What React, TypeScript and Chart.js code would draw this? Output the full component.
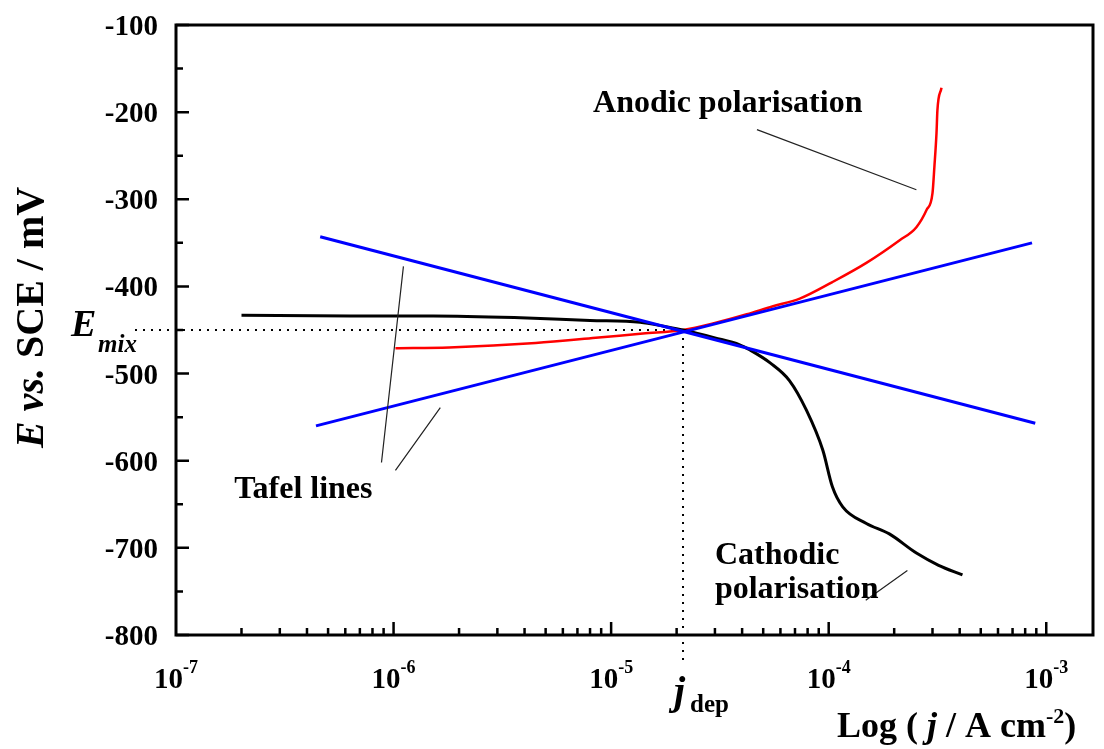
import React, { useEffect, useRef } from "react";
import { Chart, registerables } from "chart.js";

Chart.register(...registerables);

// ---------- data ----------
const cathodicJ = [2.0e-7, 6.35e-7, 1.52e-6, 3.83e-6, 8.0e-6, 1.36e-5, 1.77e-5, 2.14e-5, 3.0e-5, 3.9e-5, 4.35e-5, 5.4e-5, 6.6e-5, 7.9e-5, 9.4e-5, 1.04e-4, 1.16e-4, 1.49e-4, 1.9e-4, 2.53e-4, 3.2e-4, 4.12e-4];
const cathodicE = [-433, -434, -434, -436, -439, -441, -446, -450, -459, -467, -473, -488, -508, -542, -588, -630, -653, -672, -684, -706, -720, -731];

const anodicJ = [1.02e-6, 1.8e-6, 4.5e-6, 8.5e-6, 1.4e-5, 2.14e-5, 3.0e-5, 4.2e-5, 5.5e-5, 7.36e-5, 1.04e-4, 1.49e-4, 2.12e-4, 2.53e-4, 2.82e-4, 3.0e-4, 3.06e-4, 3.13e-4, 3.16e-4, 3.3e-4];
const anodicE = [-471, -470, -465, -459, -454, -450, -442, -432, -423, -414, -395, -373, -347, -332, -312, -293, -263, -224, -198, -172];

const tafelAnodicJ = [4.4e-7, 8.6e-4];
const tafelAnodicE = [-560, -350];
const tafelCathodicJ = [4.6e-7, 8.9e-4];
const tafelCathodicE = [-343, -557];

const yTickValues = [-800, -700, -600, -500, -400, -300, -200, -100];
const yMinorValues = [-750, -650, -550, -450, -350, -250, -150];
const xDecadeExponents = [-7, -6, -5, -4, -3];
const xMinorMultipliers = [2, 3, 4, 5, 6, 7, 8, 9];

const X_MIN = 1e-7;
const X_MAX = 1.64e-3;
const Y_MIN = -800;
const Y_MAX = -100;

const E_MIX = -450;
const J_DEP = 2.14e-5;

// leader lines [j, E] pairs
const pointerFromJ = [4.68e-5, 1.11e-6, 1.64e-6, 2.3e-4];
const pointerFromE = [-220, -377, -539, -726];
const pointerToJ = [2.53e-4, 8.8e-7, 1.02e-6, 1.48e-4];
const pointerToE = [-289, -602, -611, -760];

// annotation texts (left edge j, baseline E)
const noteTexts = ["Anodic polarisation", "Tafel lines", "Cathodic", "polarisation"];
const noteJ = [8.26e-6, 1.85e-7, 3.0e-5, 3.0e-5];
const noteE = [-200, -643, -718, -758];

const FONT = '"Liberation Serif", "Times New Roman", serif';

const toPoints = (xs: number[], ys: number[]) => xs.map((x, i) => ({ x, y: ys[i] }));

const decorPlugin = {
  id: "decor",
  beforeDatasetsDraw(chart: any) {
    const { ctx, scales } = chart;
    const xs = scales.x;
    const ys = scales.y;
    const px = xs.getPixelForValue(J_DEP);
    const py = ys.getPixelForValue(E_MIX);
    ctx.save();
    ctx.strokeStyle = "#000";
    ctx.lineWidth = 2;
    ctx.setLineDash([2, 6]);
    ctx.beginPath();
    ctx.moveTo(135, py);
    ctx.lineTo(px, py);
    ctx.moveTo(px, py);
    ctx.lineTo(px, ys.bottom + 30);
    ctx.stroke();
    ctx.restore();
  },
  afterDatasetsDraw(chart: any) {
    const { ctx, scales, chartArea } = chart;
    const xs = scales.x;
    const ys = scales.y;
    const { left, right, top, bottom } = chartArea;
    ctx.save();
    // frame
    ctx.strokeStyle = "#000";
    ctx.lineWidth = 3;
    ctx.setLineDash([]);
    ctx.strokeRect(left, top, right - left, bottom - top);

    // y ticks
    ctx.lineWidth = 2.5;
    ctx.beginPath();
    yTickValues.forEach((v) => {
      const y = ys.getPixelForValue(v);
      ctx.moveTo(left, y);
      ctx.lineTo(left + 13, y);
    });
    yMinorValues.forEach((v) => {
      const y = ys.getPixelForValue(v);
      ctx.moveTo(left, y);
      ctx.lineTo(left + 7, y);
    });
    // x ticks
    xDecadeExponents.forEach((e) => {
      const base = Math.pow(10, e);
      const x = xs.getPixelForValue(base);
      if (x > left + 2) {
        ctx.moveTo(x, bottom);
        ctx.lineTo(x, bottom - 13);
      }
      xMinorMultipliers.forEach((m) => {
        const v = base * m;
        if (v < X_MAX) {
          const xm = xs.getPixelForValue(v);
          ctx.moveTo(xm, bottom);
          ctx.lineTo(xm, bottom - 7);
        }
      });
    });
    ctx.stroke();

    // y tick labels
    ctx.fillStyle = "#000";
    ctx.font = `bold 29px ${FONT}`;
    ctx.textAlign = "right";
    ctx.textBaseline = "alphabetic";
    yTickValues.forEach((v) => {
      const y = ys.getPixelForValue(v);
      ctx.fillText(String(v), 158, y + 10);
    });

    // x tick labels 10^n
    ctx.textAlign = "left";
    xDecadeExponents.forEach((e) => {
      const x = xs.getPixelForValue(Math.pow(10, e));
      ctx.font = `bold 29px ${FONT}`;
      const w1 = ctx.measureText("10").width;
      ctx.font = `bold 18px ${FONT}`;
      const sup = String(e);
      const w2 = ctx.measureText(sup).width;
      const start = x - (w1 + w2) / 2;
      ctx.font = `bold 29px ${FONT}`;
      ctx.fillText("10", start, 688);
      ctx.font = `bold 18px ${FONT}`;
      ctx.fillText(sup, start + w1, 673);
    });

    // x title
    let cx = 837;
    const xb = 737;
    const parts: [string, string, number][] = [
      ["Log ( ", `bold 36px ${FONT}`, 0],
      ["j", `bold italic 36px ${FONT}`, 0],
      [" / A cm", `bold 36px ${FONT}`, 0],
      ["-2", `bold 22px ${FONT}`, -14],
      [")", `bold 36px ${FONT}`, 0],
    ];
    parts.forEach(([t, f, dy]) => {
      ctx.font = f;
      ctx.fillText(t, cx, xb + dy);
      cx += ctx.measureText(t).width;
    });

    // y title (rotated)
    ctx.save();
    ctx.translate(43, 448);
    ctx.rotate(-Math.PI / 2);
    let ty = 0;
    const yparts: [string, string][] = [
      ["E", `bold italic 40px ${FONT}`],
      [" vs.", `bold italic 40px ${FONT}`],
      [" SCE / mV", `bold 40px ${FONT}`],
    ];
    yparts.forEach(([t, f]) => {
      ctx.font = f;
      ctx.fillText(t, ty, 0);
      ty += ctx.measureText(t).width;
    });
    ctx.restore();

    // E_mix
    const pyMix = ys.getPixelForValue(E_MIX);
    ctx.font = `bold italic 38px ${FONT}`;
    ctx.fillText("E", 71, pyMix + 6);
    ctx.font = `bold italic 25px ${FONT}`;
    ctx.fillText("mix", 98, pyMix + 22);

    // j_dep
    const pxDep = xs.getPixelForValue(J_DEP);
    ctx.font = `bold italic 40px ${FONT}`;
    ctx.fillText("j", pxDep - 9, 704);
    ctx.font = `bold 25px ${FONT}`;
    ctx.fillText("dep", pxDep + 7, 712);

    // leader lines
    ctx.strokeStyle = "#222";
    ctx.lineWidth = 1.2;
    ctx.beginPath();
    pointerFromJ.forEach((j, i) => {
      ctx.moveTo(xs.getPixelForValue(j), ys.getPixelForValue(pointerFromE[i]));
      ctx.lineTo(xs.getPixelForValue(pointerToJ[i]), ys.getPixelForValue(pointerToE[i]));
    });
    ctx.stroke();

    // annotation texts
    ctx.fillStyle = "#000";
    ctx.font = `bold 32px ${FONT}`;
    noteTexts.forEach((t, i) => {
      ctx.fillText(t, xs.getPixelForValue(noteJ[i]), ys.getPixelForValue(noteE[i]));
    });

    ctx.restore();
  },
};

export default function App() {
  const ref = useRef<HTMLCanvasElement | null>(null);
  useEffect(() => {
    document.body.style.margin = "0";
    const canvas = ref.current;
    if (!canvas) return;
    const chart = new Chart(canvas, {
      type: "line",
      data: {
        datasets: [
          {
            label: "Cathodic Tafel line",
            data: toPoints(tafelCathodicJ, tafelCathodicE),
            borderColor: "#0000ff",
            borderWidth: 3,
            pointRadius: 0,
            tension: 0,
          },
          {
            label: "Anodic Tafel line",
            data: toPoints(tafelAnodicJ, tafelAnodicE),
            borderColor: "#0000ff",
            borderWidth: 3,
            pointRadius: 0,
            tension: 0,
          },
          {
            label: "Cathodic polarisation",
            data: toPoints(cathodicJ, cathodicE),
            borderColor: "#000000",
            borderWidth: 3,
            pointRadius: 0,
            cubicInterpolationMode: "monotone",
          },
          {
            label: "Anodic polarisation",
            data: toPoints(anodicJ, anodicE),
            borderColor: "#ff0000",
            borderWidth: 2.5,
            pointRadius: 0,
            cubicInterpolationMode: "monotone",
          },
        ],
      },
      options: {
        animation: false,
        responsive: false,
        maintainAspectRatio: false,
        devicePixelRatio: 1,
        layout: { padding: { left: 176, top: 25, right: 11, bottom: 114 } },
        plugins: { legend: { display: false }, tooltip: { enabled: false } },
        scales: {
          x: { type: "logarithmic", min: X_MIN, max: X_MAX, display: false },
          y: { type: "linear", min: Y_MIN, max: Y_MAX, display: false },
        },
      },
      plugins: [decorPlugin],
    });
    return () => chart.destroy();
  }, []);
  return (
    <div style={{ position: "absolute", left: 0, top: 0, width: 1104, height: 749, background: "#fff" }}>
      <canvas ref={ref} width={1104} height={749} style={{ width: 1104, height: 749 }} />
    </div>
  );
}
